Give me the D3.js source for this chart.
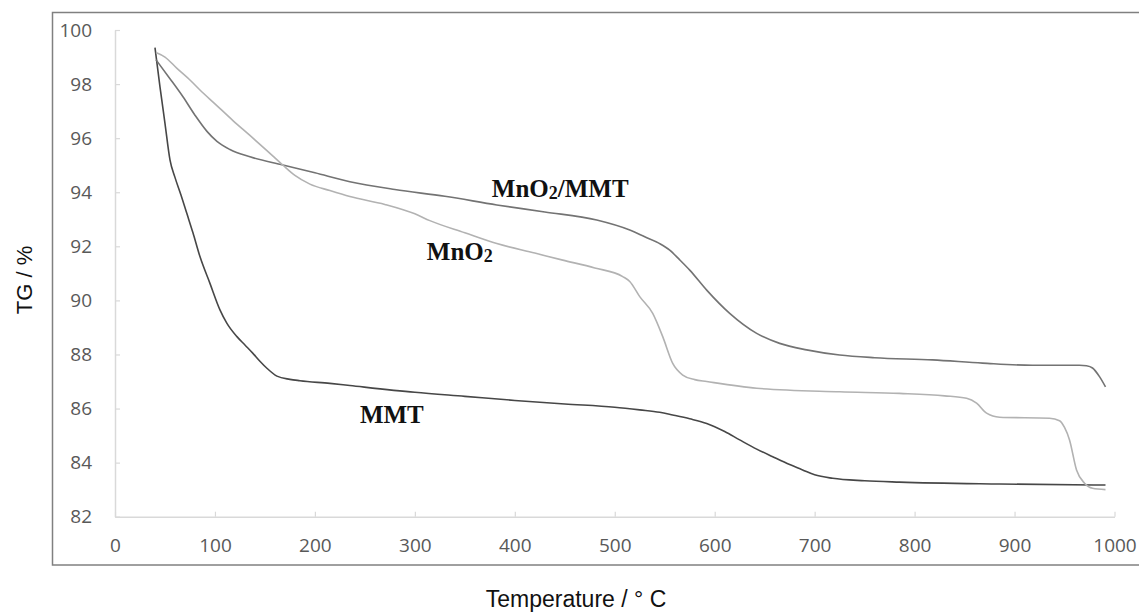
<!DOCTYPE html>
<html>
<head>
<meta charset="utf-8">
<script src="https://cdn.jsdelivr.net/npm/d3@7"></script>
<style>
  html, body { margin: 0; padding: 0; background: #fff; }
  svg { display: block; }
</style>
</head>
<body>
<svg id="chart" width="1139" height="612"></svg>
<script>
// ---- data (temperature °C, TG %) ----
const xTicks = [0, 100, 200, 300, 400, 500, 600, 700, 800, 900, 1000];
const yTicks = [82, 84, 86, 88, 90, 92, 94, 96, 98, 100];

const mmt = [
  [40,99.35],[45,97.9],[50,96.55],[55,95.2],[60,94.55],[66,93.9],[72,93.2],[78,92.5],
  [85,91.62],[95,90.63],[105,89.65],[112,89.15],[122,88.66],[130,88.35],[138,88.04],
  [145,87.75],[152,87.49],[162,87.2],[175,87.08],[185,87.03],[215,86.93],[235,86.85],
  [300,86.6],[350,86.45],[400,86.3],[450,86.17],[500,86.05],[525,85.95],[545,85.86],
  [558,85.76],[575,85.62],[592,85.45],[610,85.15],[625,84.84],[642,84.5],[658,84.22],
  [675,83.93],[688,83.73],[700,83.55],[718,83.42],[750,83.33],[785,83.28],[885,83.21],
  [991,83.17]
];

const mno2mmt = [
  [41,98.9],[55,98.2],[68,97.53],[80,96.85],[92,96.25],[102,95.88],[115,95.58],
  [135,95.31],[168,95.01],[200,94.72],[235,94.39],[280,94.1],[330,93.85],[382,93.53],
  [430,93.27],[482,92.97],[515,92.6],[530,92.35],[545,92.1],[555,91.86],[565,91.5],
  [575,91.12],[592,90.38],[615,89.52],[642,88.78],[665,88.41],[692,88.17],[725,87.98],
  [760,87.88],[818,87.8],[868,87.68],[918,87.6],[965,87.6],[972,87.58],[978,87.5],
  [985,87.18],[991,86.8]
];

const mno2 = [
  [41,99.17],[50,99.0],[62,98.58],[75,98.15],[85,97.78],[100,97.27],[118,96.65],
  [135,96.1],[152,95.54],[168,95.0],[180,94.62],[195,94.3],[215,94.06],[235,93.84],
  [270,93.55],[300,93.2],[315,92.95],[350,92.5],[382,92.1],[420,91.75],[448,91.49],
  [480,91.2],[508,90.88],[515,90.7],[525,90.14],[538,89.52],[548,88.66],[558,87.67],
  [568,87.24],[580,87.07],[592,87.0],[642,86.75],[725,86.62],[785,86.56],[830,86.47],
  [852,86.38],[862,86.2],[872,85.83],[885,85.68],[935,85.64],[945,85.55],[950,85.3],
  [955,84.84],[962,83.73],[970,83.24],[978,83.05],[991,83.0]
];

const seriesNames = ["MMT", "MnO2/MMT", "MnO2"];
const seriesData = [mmt, mno2mmt, mno2];

// ---- drawing ----
const svg = d3.select("#chart");
const x = d3.scaleLinear().domain([0, 1000]).range([115, 1114.5]);
const y = d3.scaleLinear().domain([82, 100]).range([516.7, 30]);

// outer frame (right edge outside the picture)
svg.append("rect")
  .attr("x", 52.5).attr("y", 12.5)
  .attr("width", 1100).attr("height", 552.5)
  .attr("fill", "none").attr("stroke", "#808080").attr("stroke-width", 1.5);

const gx = svg.append("g").attr("transform", `translate(0,${y(82)})`)
  .call(d3.axisBottom(x).tickValues(xTicks).tickFormat(d3.format("d"))
    .tickSize(-5).tickSizeOuter(0).tickPadding(22));
const gy = svg.append("g").attr("transform", `translate(${x(0)},0)`)
  .call(d3.axisLeft(y).tickValues(yTicks).tickFormat(d3.format("d"))
    .tickSize(-5).tickSizeOuter(0).tickPadding(23));

[gx, gy].forEach(g => {
  g.select(".domain").attr("stroke", "#d9d9d9").attr("stroke-width", 1.5);
  g.selectAll(".tick line").attr("stroke", "#d9d9d9").attr("stroke-width", 1.2);
  g.selectAll(".tick text")
    .attr("fill", "#595959")
    .style("font-family", "'Open Sans', 'Noto Sans', sans-serif")
    .style("font-size", "19px");
});

const line = d3.line()
  .x(d => x(d[0])).y(d => y(d[1]))
  .curve(d3.curveMonotoneX);

const colors = ["#474747", "#737373", "#b2b2b2"];
seriesData.forEach((s, i) => {
  svg.append("path")
    .datum(s)
    .attr("d", line)
    .attr("fill", "none")
    .attr("stroke", colors[i])
    .attr("stroke-width", 1.6)
    .attr("stroke-linejoin", "round");
});

// series labels (bold serif, "2" smaller)
const labelAt = [[245, 85.47], [377, 93.82], [312, 91.49]];
seriesNames.forEach((name, i) => {
  const t = svg.append("text")
    .attr("x", x(labelAt[i][0])).attr("y", y(labelAt[i][1]))
    .style("font-family", "'Liberation Serif', 'Times New Roman', serif")
    .style("font-weight", "bold")
    .style("font-size", "25px")
    .attr("fill", "#111");
  const parts = name.split("2");
  if (parts.length === 1) {
    t.text(name);
  } else {
    t.append("tspan").text(parts[0]);
    t.append("tspan").text("2").style("font-size", "18px").attr("dy", 2);
    t.append("tspan").text(parts[1]).attr("dy", -2);
  }
});

// axis titles
svg.append("text")
  .attr("x", 576).attr("y", 607)
  .attr("text-anchor", "middle")
  .style("font-family", "'Liberation Sans', Arial, sans-serif")
  .style("font-size", "23px")
  .attr("fill", "#111")
  .text("Temperature /  ° C");

svg.append("text")
  .attr("transform", "translate(32,280) rotate(-90)")
  .attr("text-anchor", "middle")
  .style("font-family", "'Liberation Sans', Arial, sans-serif")
  .style("font-size", "22px")
  .attr("fill", "#111")
  .text("TG / %");
</script>
</body>
</html>
